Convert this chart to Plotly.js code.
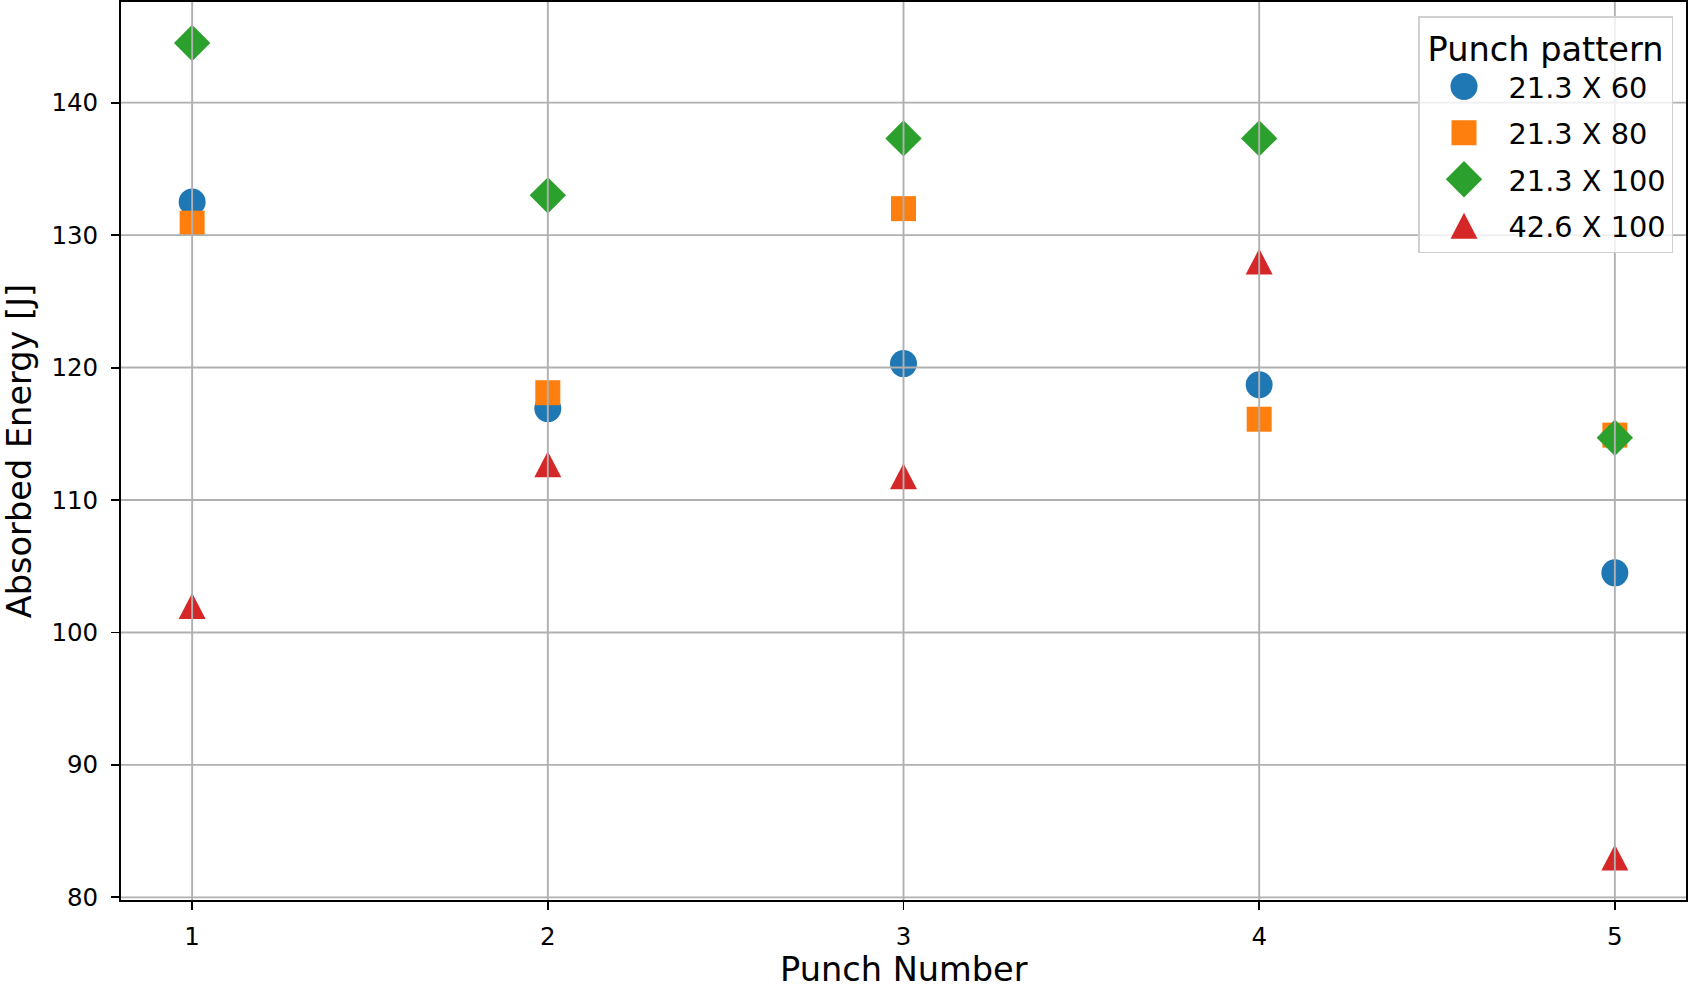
<!DOCTYPE html>
<html>
<head>
<meta charset="utf-8">
<script src="https://cdn.plot.ly/plotly-3.0.1.min.js"></script>
<style>
  html, body { margin: 0; padding: 0; background: #fff; }
  #chart { width: 1690px; height: 988px; }
</style>
</head>
<body>
<div id="chart"></div>
<script>
// punch numbers and absorbed energy [J] per punch pattern
const punchNumbers = [1, 2, 3, 4, 5];
const energy_21x60 = [132.5, 116.9, 120.3, 118.7, 104.5];
const energy_21x80 = [130.9, 118.1, 132.0, 116.1, 114.9];
const energy_21x100 = [144.5, 133.0, 137.3, 137.3, 114.7];
const energy_42x100 = [102.0, 112.7, 111.8, 128.0, 83.0];

const seriesNames = ['21.3 X 60', '21.3 X 80', '21.3 X 100', '42.6 X 100'];
const xTicks = [1, 2, 3, 4, 5];
const yTicks = [80, 90, 100, 110, 120, 130, 140];

const FONT = 'DejaVu Sans, sans-serif';

function series(y, name, color, symbol, size) {
    return {
        x: punchNumbers, y: y, name: name, legendgroup: name,
        type: 'scatter', mode: 'markers',
        marker: { color: color, symbol: symbol, size: size, line: { width: 0 } },
        cliponaxis: false
    };
}

const data = [
    series(energy_21x60, seriesNames[0], '#1f77b4', 'circle', 27),
    series(energy_21x80, seriesNames[1], '#ff7f0e', 'square', 25),
    series(energy_21x100, seriesNames[2], '#2ca02c', 'diamond', 28),
    series(energy_42x100, seriesNames[3], '#d62728', 'triangle-up', 29)
];

// matplotlib draws the grid above the markers, so use shapes on top
const gridStyle = { color: '#b0b0b0', width: 1.9 };
const shapes = [];
xTicks.forEach(t => shapes.push({
    type: 'line', layer: 'above', xref: 'x', yref: 'paper',
    x0: t, x1: t, y0: 0, y1: 1, line: gridStyle
}));
yTicks.forEach(t => shapes.push({
    type: 'line', layer: 'above', xref: 'paper', yref: 'y',
    x0: 0, x1: 1, y0: t, y1: t, line: gridStyle
}));

const axisCommon = {
    showline: true, linecolor: '#000', linewidth: 1.9, mirror: true,
    ticks: 'outside', ticklen: 8, tickwidth: 1.9, tickcolor: '#000',
    showgrid: false, zeroline: false,
    tickfont: { family: FONT, size: 24.5, color: '#000' }
};

const layout = {
    width: 1690, height: 988,
    margin: { l: 121, r: 4, t: 2, b: 88 },
    paper_bgcolor: '#fff', plot_bgcolor: '#fff',
    font: { family: FONT, color: '#000' },
    xaxis: Object.assign({}, axisCommon, {
        range: [0.8, 5.2], tickvals: xTicks, ticklabelstandoff: 6
    }),
    yaxis: Object.assign({}, axisCommon, {
        range: [79.8, 147.6], tickvals: yTicks, ticklabelstandoff: 8,
        title: { text: 'Absorbed Energy [J]', font: { family: FONT, size: 33.6, color: '#000' }, standoff: 14 }
    }),
    // x title sits lower than plotly lets an axis title go, so draw it as an annotation
    annotations: [{
        text: 'Punch Number', xref: 'paper', yref: 'paper', x: 0.5, y: 0,
        xanchor: 'center', yanchor: 'top', yshift: -48, showarrow: false,
        font: { family: FONT, size: 33.6, color: '#000' }
    }],
    shapes: shapes,
    showlegend: true,
    legend: {
        x: 0.9917, y: 0.9844, xanchor: 'right', yanchor: 'top',
        bgcolor: 'rgba(255,255,255,0.8)', bordercolor: '#d0d0d0', borderwidth: 1.5,
        font: { family: FONT, size: 28.8, color: '#000' },
        title: { text: 'Punch pattern', side: 'top center', font: { family: FONT, size: 33.6, color: '#000' } },
        itemsizing: 'trace', itemwidth: 79,
        traceorder: 'grouped', tracegroupgap: 6
    }
};

// matplotlib-like triangle: bbox centred on the point
const TRI = 'M-13.5,13L13.5,13L0,-13Z';

Plotly.newPlot('chart', data, layout, { displayModeBar: false, staticPlot: true }).then(function() {
    // legend symbols are capped at 16px by plotly; scale them up to the plot size
    const sizes = [27, 25, 28];
    document.querySelectorAll('#chart .legend .traces').forEach(function(item, i) {
        item.querySelectorAll('path.scatterpts').forEach(function(p) {
            if (i === 3) {
                p.setAttribute('d', TRI);
            } else {
                const t = p.getAttribute('transform') || '';
                p.setAttribute('transform', t + ' scale(' + (sizes[i] / 16) + ')');
            }
        });
    });
    const traces = document.querySelectorAll('#chart .scatterlayer .trace');
    if (traces[3]) {
        traces[3].querySelectorAll('path.point').forEach(function(p) { p.setAttribute('d', TRI); });
    }
});
</script>
</body>
</html>
